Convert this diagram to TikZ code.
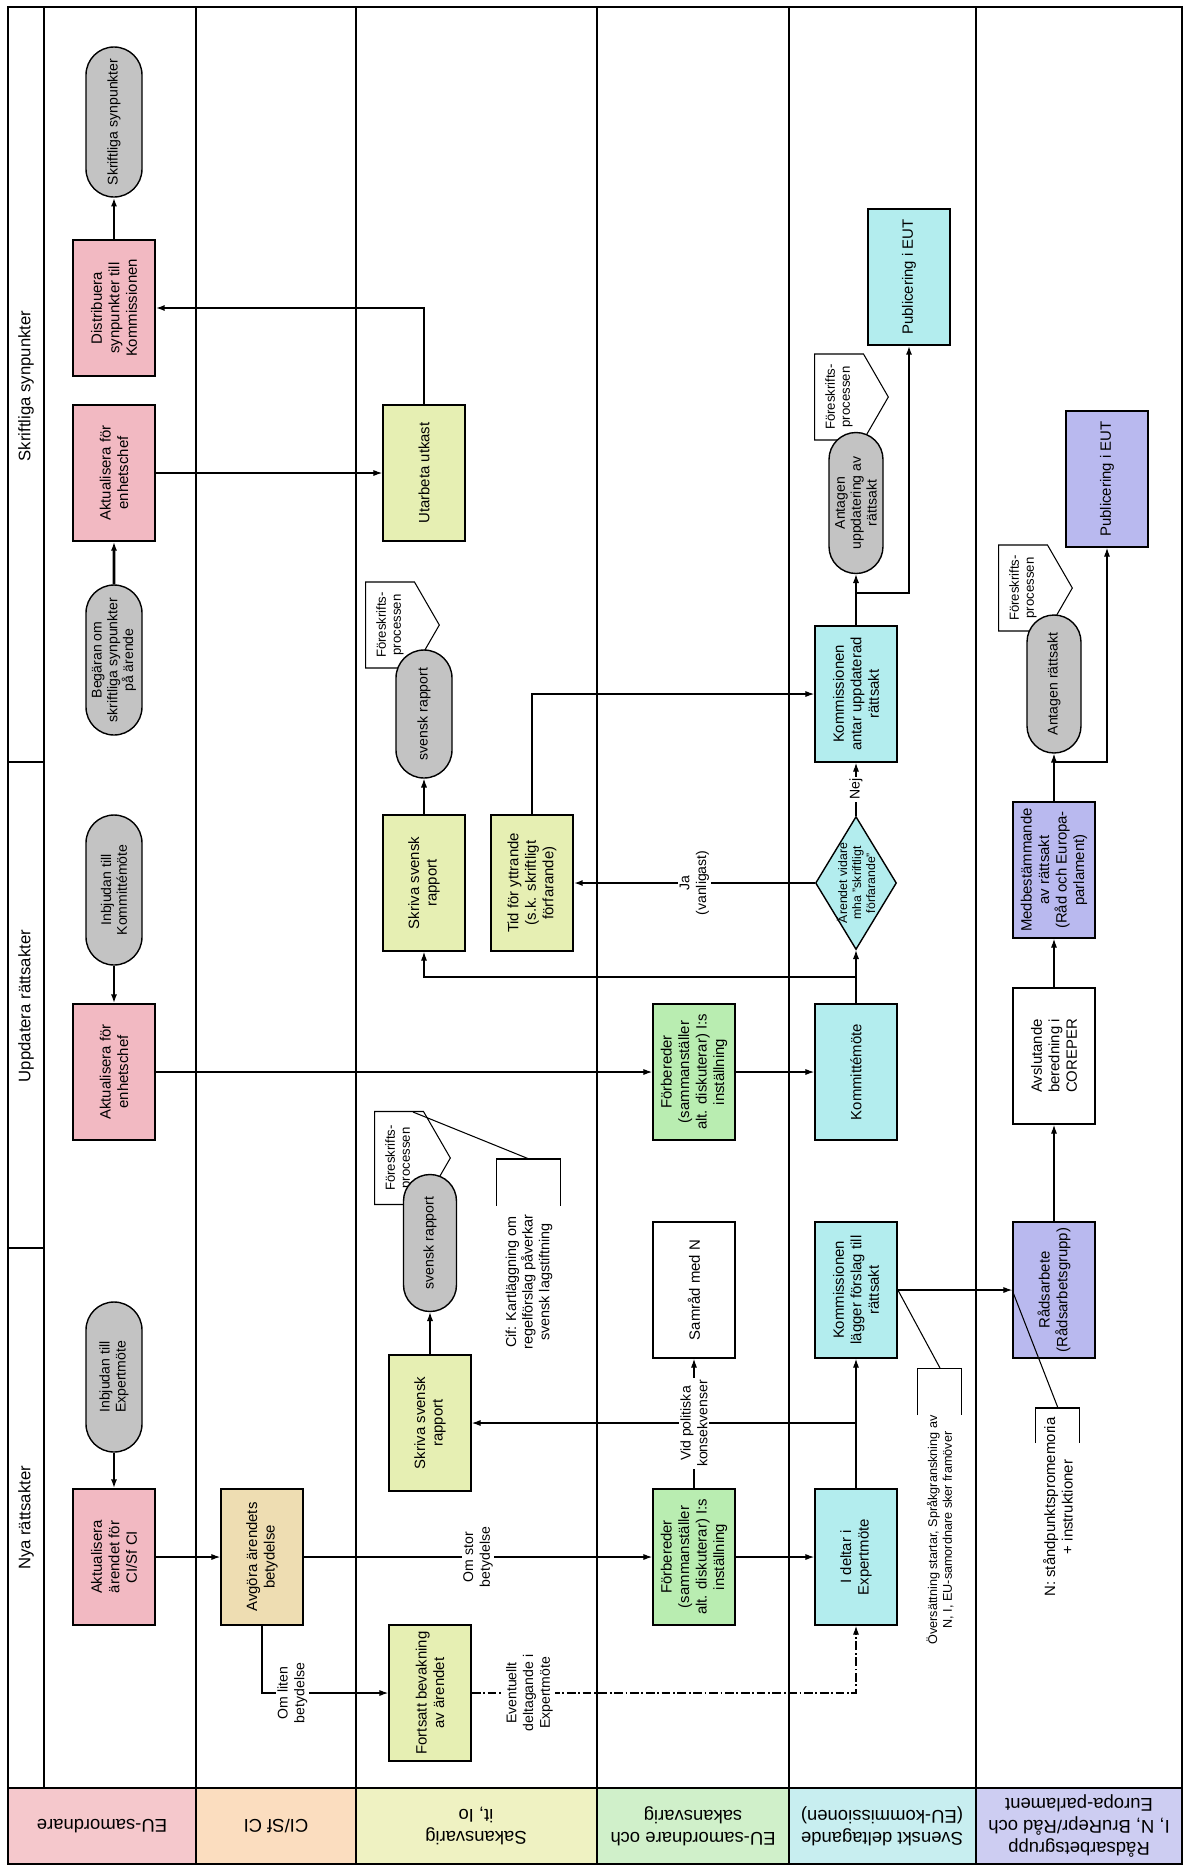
\documentclass[tikz,border=0pt]{standalone}
\usepackage{fontspec}
\setmainfont{Liberation Sans}
\usetikzlibrary{arrows.meta, shapes.geometric, shapes.misc, shapes.symbols}

\definecolor{hdpink}{HTML}{F5C8CC}
\definecolor{hdpeach}{HTML}{FBDDBF}
\definecolor{hdyellow}{HTML}{EFF2C2}
\definecolor{hdgreen}{HTML}{D0F0CA}
\definecolor{hdcyan}{HTML}{C8EEF0}
\definecolor{hdlilac}{HTML}{CDCDF2}
\definecolor{bxpink}{HTML}{F2B9C2}
\definecolor{bxbeige}{HTML}{EEDDB2}
\definecolor{bxyellow}{HTML}{E6EFB3}
\definecolor{bxgreen}{HTML}{B9EDB1}
\definecolor{bxcyan}{HTML}{B3EDEE}
\definecolor{bxlilac}{HTML}{B9B9EF}
\definecolor{termgray}{HTML}{C3C3C3}

\begin{document}
\begin{tikzpicture}[x=0.2mm, y=-0.2mm,
    every node/.style={font=\fontsize{8.5}{10}\selectfont},
    act/.style={draw, line width=1pt, rotate=90, align=center, minimum width=27.2mm, minimum height=16.4mm, inner sep=1pt},
    term/.style={draw, line width=0.8pt, rounded rectangle, fill=termgray, rotate=90, align=center, minimum width=30mm, minimum height=11.2mm, inner sep=0pt, font=\fontsize{8}{9}\selectfont},
    decide/.style={draw, line width=0.8pt, diamond, aspect=1.64, rotate=90, align=center, inner sep=-2pt, minimum width=26.6mm, minimum height=16.2mm, font=\fontsize{7}{8}\selectfont},
    callout/.style={draw, line width=0.6pt, fill=white, signal, signal to=south, signal pointer angle=120, rotate=90, align=center, anchor=north, minimum width=17.2mm, minimum height=13.8mm, inner sep=1pt, font=\fontsize{7.5}{8.5}\selectfont},
    note/.style={rotate=90, align=center, inner sep=0pt},
    flow/.style={-{Latex[length=5pt,width=3.5pt]}, line width=0.6pt},
    mainflow/.style={flow, line width=1.6pt},
    optflow/.style={flow, dash pattern=on 5pt off 1.5pt on 1pt off 1.5pt},
    leader/.style={line width=0.6pt},
    cond/.style={midway, fill=white, rotate=90, align=center, inner sep=1pt, font=\fontsize{8}{9.5}\selectfont},
    lanehead/.style={rotate=180, align=center, font=\fontsize{10.5}{12.5}\selectfont},
    section/.style={rotate=90, font=\fontsize{9.5}{11}\selectfont},
    lane/.style={line width=0.7pt}
  ]
  \useasboundingbox (0,0) rectangle (1184,1865);

  % lanes
  \fill[hdpink] (8,1788) rectangle (196,1864);
  \fill[hdpeach] (196,1788) rectangle (356,1864);
  \fill[hdyellow] (356,1788) rectangle (597,1864);
  \fill[hdgreen] (597,1788) rectangle (789,1864);
  \fill[hdcyan] (789,1788) rectangle (976,1864);
  \fill[hdlilac] (976,1788) rectangle (1182,1864);
  \draw[lane, line width=1pt] (8,7) rectangle (1182,1864);
  \draw[lane] (8,1788) -- (1182,1788);
  \draw[lane] (44,7) -- (44,1788);
  \draw[lane] (8,762) -- (44,762);
  \draw[lane] (8,1248) -- (44,1248);
  \draw[lane] (196,7) -- (196,1864);
  \draw[lane] (356,7) -- (356,1864);
  \draw[lane] (597,7) -- (597,1864);
  \draw[lane] (789,7) -- (789,1864);
  \draw[lane] (976,7) -- (976,1864);

  \node[section] (sec1) at (26,386) {Skriftliga synpunkter};
  \node[section] (sec2) at (26,1006) {Uppdatera rättsakter};
  \node[section] (sec3) at (26,1518) {Nya rättsakter};

  \node[lanehead] (hd1) at (102,1826) {EU-samordnare};
  \node[lanehead] (hd2) at (276,1826) {CI/Sf CI};
  \node[lanehead] (hd3) at (476,1826) {Sakansvarig\\it, Io};
  \node[lanehead] (hd4) at (693,1826) {EU-samordnare och\\sakansvarig};
  \node[lanehead] (hd5) at (882,1826) {Svenskt deltagande\\(EU-kommissionen)};
  \node[lanehead] (hd6) at (1079,1826) {Rådsarbetsgrupp\\I, N, BruRepr/Råd och\\Europa-parlament};

  % EU-samordnare
  \node[term] (skr) at (114,122) {Skriftliga synpunkter};
  \node[act, fill=bxpink] (distr) at (114,308) {Distribuera\\synpunkter till\\Kommissionen};
  \node[act, fill=bxpink] (akt3) at (114,473) {Aktualisera för\\enhetschef};
  \node[term] (beg) at (114,660) {Begäran om\\skriftliga synpunkter\\på ärende};
  \node[term] (inkom) at (114,890) {Inbjudan till\\Kommittémöte};
  \node[act, fill=bxpink] (akt2) at (114,1072) {Aktualisera för\\enhetschef};
  \node[term] (inexp) at (114,1377) {Inbjudan till\\Expertmöte};
  \node[act, fill=bxpink] (akt1) at (114,1557) {Aktualisera\\ärendet för\\CI/Sf CI};

  % CI/Sf CI
  \node[act, fill=bxbeige] (avgora) at (262,1557) {Avgöra ärendets\\betydelse};

  % Sakansvarig
  \node[act, fill=bxyellow] (utarb) at (424,473) {Utarbeta utkast};
  \node[callout] (fore1) at (365,625) {Föreskrifts-\\processen};
  \node[term, minimum width=25.6mm] (rap1) at (424,714) {svensk rapport};
  \node[act, fill=bxyellow] (skriva1) at (424,883) {Skriva svensk\\rapport};
  \node[act, fill=bxyellow] (tid) at (532,883) {Tid för yttrande\\(s.k. skriftligt\\förfarande)};
  \node[callout, minimum width=18.6mm] (fore2) at (374,1158) {Föreskrifts-\\processen};
  \node[term, minimum width=27.4mm, minimum height=10.6mm] (rap2) at (430,1243) {svensk rapport};
  \node[note, minimum height=12.8mm, font=\fontsize{8.2}{9.5}\selectfont] (cif) at (529,1282) {Cif: Kartläggning om\\regelförslag påverkar\\svensk lagstiftning};
  \node[act, fill=bxyellow] (skriva2) at (430,1423) {Skriva svensk\\rapport};
  \node[act, fill=bxyellow] (fort) at (430,1693) {Fortsatt bevakning\\av ärendet};

  % EU-samordnare och sakansvarig
  \node[act, fill=bxgreen] (forb1) at (694,1072) {Förbereder\\(sammanställer\\alt. diskuterar) I:s\\inställning};
  \node[act, fill=white] (samrad) at (694,1290) {Samråd med N};
  \node[act, fill=bxgreen] (forb2) at (694,1557) {Förbereder\\(sammanställer\\alt. diskuterar) I:s\\inställning};

  % Svenskt deltagande
  \node[act, fill=bxcyan] (pub1) at (909,277) {Publicering i EUT};
  \node[callout] (fore3) at (814,397) {Föreskrifts-\\processen};
  \node[term, minimum width=28.2mm, minimum height=10.8mm] (antupp) at (856,503) {Antagen\\uppdatering av\\rättsakt};
  \node[act, fill=bxcyan] (komantar) at (856,694) {Kommissionen\\antar uppdaterad\\rättsakt};
  \node[decide, fill=bxcyan] (vidare) at (856,883) {Ärendet vidare\\mha "skriftligt\\förfarande"};
  \node[act, fill=bxcyan] (kommitte) at (856,1072) {Kommittémöte};
  \node[act, fill=bxcyan] (komlagg) at (856,1290) {Kommissionen\\lägger förslag till\\rättsakt};
  \node[act, fill=bxcyan] (ideltar) at (856,1557) {I deltar i\\Expertmöte};
  \node[note, minimum height=8.8mm, font=\fontsize{7.2}{8.5}\selectfont] (overs) at (940,1530) {Översättning startar, Språkgranskning av\\N, I, EU-samordnare sker framöver};

  % Rådsarbetsgrupp
  \node[act, fill=bxlilac] (pub2) at (1107,479) {Publicering i EUT};
  \node[callout] (fore4) at (998,588) {Föreskrifts-\\processen};
  \node[term, minimum width=27.6mm, minimum height=10.8mm] (antr) at (1054,684) {Antagen rättsakt};
  \node[act, fill=bxlilac] (medb) at (1054,870) {Medbestämmande\\av rättsakt\\(Råd och Europa-\\parlament)};
  \node[act, fill=white] (avsl) at (1054,1056) {Avslutande\\beredning i\\COREPER};
  \node[act, fill=bxlilac] (radsarb) at (1054,1290) {Rådsarbete\\(Rådsarbetsgrupp)};
  \node[note, minimum height=8.8mm] (nann) at (1058,1507) {N: ståndpunktspromemoria\\+ instruktioner};

  % annotation brackets
  \draw[leader] (cif.north east) ++(0,-8) -- ++(0,-47) -- ++(64,0) -- ++(0,47);
  \path (cif.east) ++(0,-55) coordinate (citop);
  \coordinate (cifend) at (413,1112);
  \draw[leader] (overs.north east) -- ++(0,-47) -- ++(44,0) -- ++(0,47);
  \path (overs.east) ++(0,-47) coordinate (ovtop);
  \draw[leader] (nann.north east) ++(0,26) -- ++(0,-35) -- ++(44,0) -- ++(0,35);
  \path (nann.east) ++(0,-9) coordinate (ntop);

  % branch points
  \coordinate (kab) at (856,593);
  \coordinate (kb) at (856,977);
  \coordinate (ib) at (856,1423);
  \coordinate (mab) at (1054,762);

  % connectors
  \draw[mainflow] (distr) -- (skr);
  \draw[mainflow] (utarb) |- (distr);
  \draw[flow] (akt3) -- (utarb);
  \draw[mainflow] (beg) -- (akt3);
  \draw[mainflow] (inkom) -- (akt2);
  \draw[flow] (akt2) -- (forb1);
  \draw[flow] (forb1) -- (kommitte);
  \draw[flow] (kommitte) -- (vidare);
  \draw[flow] (kb) -| (skriva1);
  \draw[flow] (skriva1) -- (rap1);
  \draw[mainflow] (vidare) -- (tid) node[cond] {Ja\\(vanligast)};
  \draw[flow] (vidare) -- (komantar) node[cond] {Nej};
  \draw[flow] (tid) |- (komantar);
  \draw[flow] (komantar) -- (antupp);
  \draw[flow, line width=1.2pt] (kab) -| (pub1);
  \draw[flow] (medb) -- (antr);
  \draw[flow] (mab) -| (pub2);
  \draw[mainflow] (inexp) -- (akt1);
  \draw[flow] (akt1) -- (avgora);
  \draw[flow] (avgora) -- (forb2) node[cond] {Om stor\\betydelse};
  \draw[flow] (avgora) |- (fort) node[cond, pos=0.62] {Om liten\\betydelse};
  \draw[optflow] (fort) -| (ideltar) node[cond, pos=0.075] {Eventuellt\\deltagande i\\Expertmöte};
  \draw[flow] (forb2) -- (ideltar);
  \draw[flow] (ideltar) -- (komlagg);
  \draw[flow] (ib) -- (skriva2);
  \draw[flow] (forb2) -- (samrad) node[cond] {Vid politiska\\konsekvenser};
  \draw[flow] (skriva2) -- (rap2);
  \draw[flow] (komlagg) -- (radsarb);
  \draw[flow] (radsarb) -- (avsl);
  \draw[flow] (avsl) -- (medb);
  \draw[leader] (komlagg.south) -- (ovtop);
  \draw[leader] (radsarb.north) -- (ntop);
  \draw[leader] (citop) -- (cifend);
\end{tikzpicture}
\end{document}
